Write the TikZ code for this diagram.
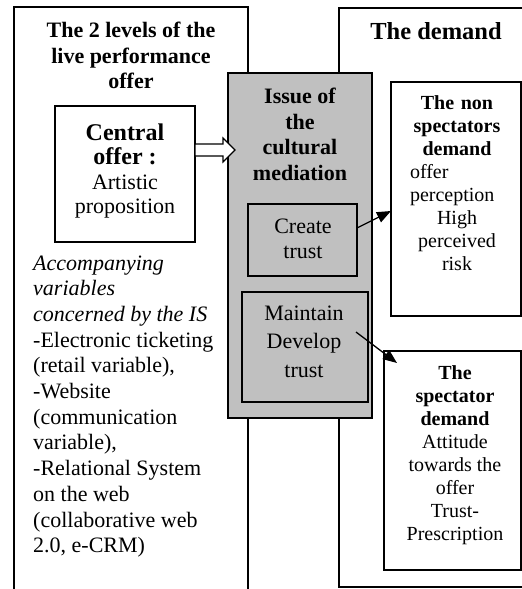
\documentclass[tikz,border=0pt]{standalone}
\usepackage{fontspec}
\setmainfont{Liberation Serif}
\usetikzlibrary{arrows.meta,calc}
\definecolor{boxgray}{RGB}{192,192,192}
\begin{document}
\begin{tikzpicture}[x=1pt,y=-1pt,
  frame/.style={draw=black,line width=1.2pt},
  boxnode/.style={frame,inner sep=0pt,outer sep=0pt},
  txt/.style={inner sep=0pt,align=center},
  titlefont/.style={font=\fontsize{22}{25.5}\selectfont\bfseries},
  bodyfont/.style={font=\fontsize{22}{25.7}\selectfont},
  smallfont/.style={font=\fontsize{20}{23}\selectfont},
  arr/.style={line width=1.3pt,-{Triangle[length=14pt,width=11pt]}}]
\useasboundingbox (0,0) rectangle (522,589);
% open frames
\draw[frame] (14,600) -- (14,7) -- (248,7) -- (248,600);
\draw[frame] (540,8) -- (339,8) -- (339,587) -- (540,587);
% boxes
\node[boxnode,fill=white,minimum width=140pt,minimum height=136pt] (central) at (125,174) {};
\node[boxnode,fill=boxgray,minimum width=144pt,minimum height=345pt] (issue) at (300,245.5) {};
\node[boxnode,fill=boxgray,minimum width=109pt,minimum height=72pt] (create) at (302.5,240) {};
\node[boxnode,fill=boxgray,minimum width=126pt,minimum height=110pt] (maintain) at (305,347) {};
\node[boxnode,fill=white,minimum width=130pt,minimum height=234pt] (nonspec) at (456,199) {};
\node[boxnode,fill=white,minimum width=137pt,minimum height=219pt] (spec) at (452.5,460.5) {};
% texts
\node[txt,titlefont] (offertitle) at (131,55.5) {The 2 levels of the\\live performance\\offer};
\node[txt,font=\fontsize{24.5}{28}\selectfont\bfseries] (demandtitle) at (436,31) {The demand};
\node[txt,titlefont] (issuetext) at (300,134.5) {Issue of\\the\\cultural\\mediation};
\node[txt,font=\fontsize{22}{24.5}\selectfont] (centraltext) at (125,171)
  {{\fontsize{24}{24.5}\selectfont\bfseries Central}\\{\fontsize{24}{24.5}\selectfont\bfseries offer :}\\Artistic\\proposition};
\node[txt,font=\fontsize{22}{25}\selectfont] (createtext) at (303,238.5) {Create\\trust};
\node[txt,font=\fontsize{22}{28.5}\selectfont] (maintaintext) at (304,341.5) {Maintain\\Develop\\trust};
\node[txt,bodyfont,align=left,anchor=west] (accomp) at (33,406.5)
  {\itshape Accompanying\\\itshape variables\\\itshape concerned by the IS\\-Electronic ticketing\\(retail variable),\\-Website\\(communication\\variable),\\-Relational System\\on the web\\(collaborative web\\2.0, e-CRM)};
\node[txt,smallfont,text width=94pt] (nonspectext) at (457,183.5)
  {\textbf{The non}\\\textbf{spectators}\\\textbf{demand}\\offer\hfill\mbox{}\\perception\hfill\mbox{}\\High\\perceived\\risk};
\node[txt,smallfont] (spectext) at (455,455)
  {\textbf{The}\\\textbf{spectator}\\\textbf{demand}\\Attitude\\towards the\\offer\\Trust-\\Prescription};
% connectors
\coordinate (ba) at ($(central.east)+(0,-24)$);
\draw[frame,fill=white] ($(ba)+(0,-6)$) -- ($(ba)+(28,-6)$) -- ($(ba)+(28,-12)$) -- ($(ba)+(40,0)$)
  -- ($(ba)+(28,12)$) -- ($(ba)+(28,6)$) -- ($(ba)+(0,6)$) -- cycle;
\draw[arr] ([yshift=12pt]create.east) -- ([yshift=-12pt]nonspec.west);
\draw[arr] ([xshift=-12pt,yshift=15pt]maintain.east) -- ([xshift=13pt,yshift=-12pt]spec.north west);
\end{tikzpicture}
\end{document}
